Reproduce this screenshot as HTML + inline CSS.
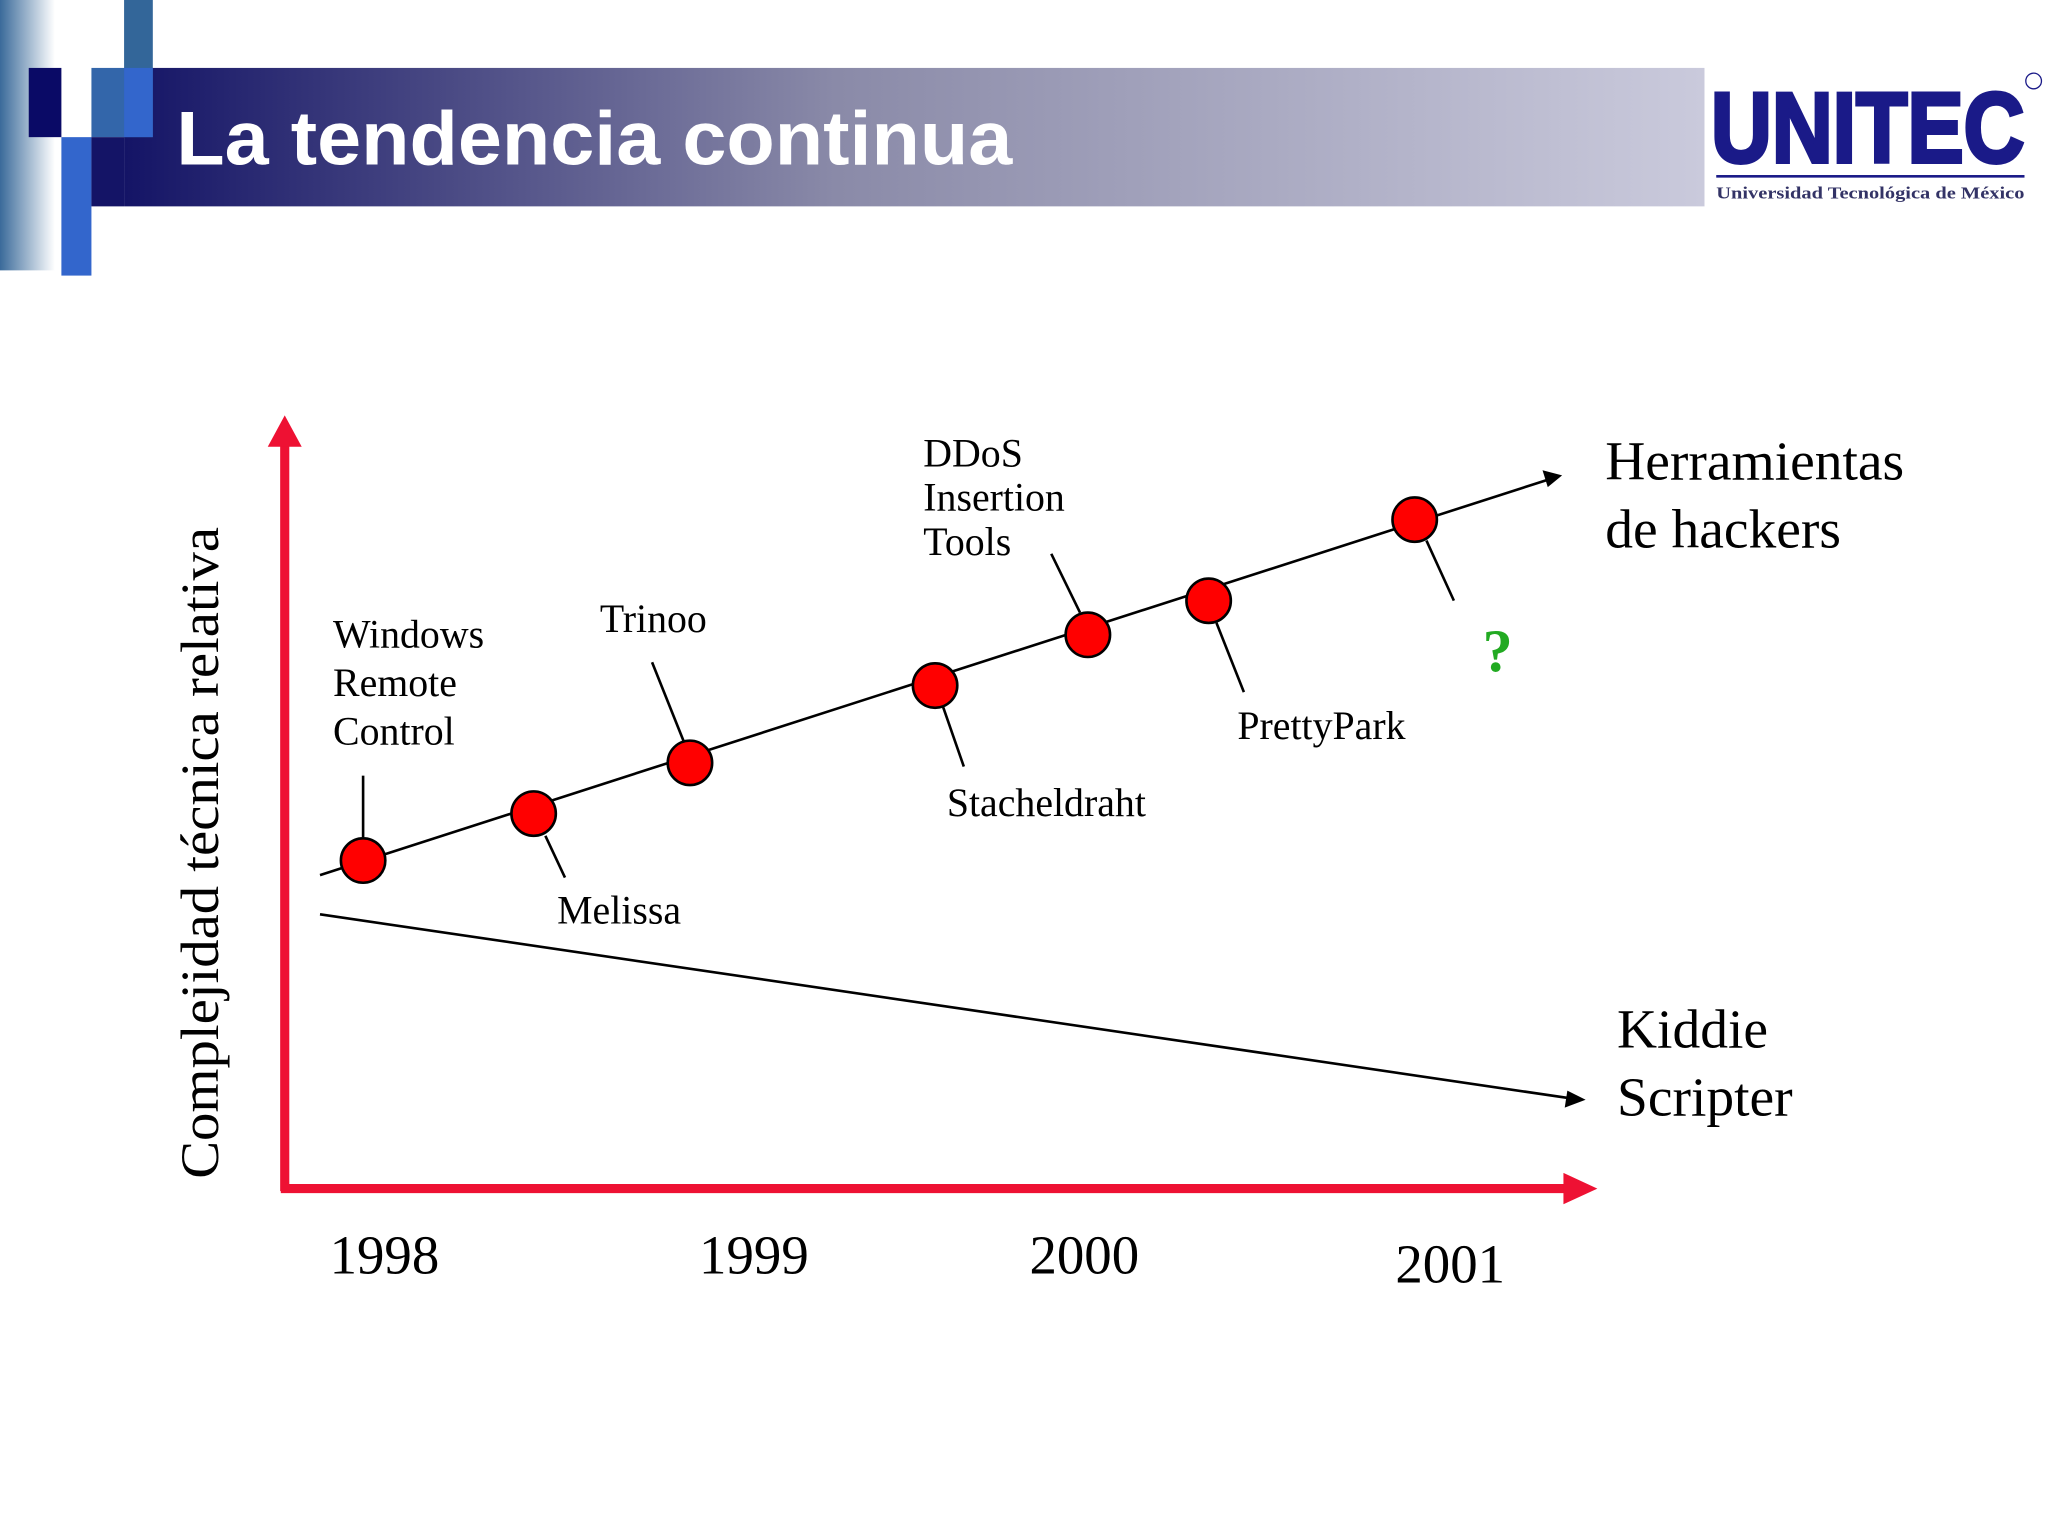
<!DOCTYPE html>
<html><head><meta charset="utf-8"><style>
html,body{margin:0;padding:0;background:#fff;}
svg{display:block;}
</style></head><body>
<svg id="chart" width="2048" height="1536" viewBox="0 0 1568 1176" xmlns="http://www.w3.org/2000/svg">
<defs>
<linearGradient id="band" x1="0" x2="1" y1="0" y2="0">
<stop offset="0" stop-color="#141466"/><stop offset="0.45" stop-color="#8a8aa8"/><stop offset="1" stop-color="#cacadc"/>
</linearGradient>
<linearGradient id="strip" x1="0" x2="1" y1="0" y2="0">
<stop offset="0" stop-color="#3a6a9a"/><stop offset="1" stop-color="#ffffff"/>
</linearGradient>
</defs>
<g>
<rect x="0" y="0" width="42" height="207" fill="url(#strip)"/>
<rect x="95" y="52" width="1210" height="106" fill="url(#band)"/>
<rect x="95" y="0" width="22" height="105" fill="#336699"/>
<rect x="22" y="52" width="25" height="53" fill="#0a0a66"/>
<rect x="70" y="52" width="25" height="53" fill="#3366aa"/>
<rect x="95" y="52" width="22" height="53" fill="#3366cc"/>
<rect x="47" y="105" width="23" height="106" fill="#3366cc"/>
<rect x="70" y="105" width="25" height="53" fill="#141466"/>
<text x="135" y="126" fill="#fff" font-family="Liberation Sans, sans-serif" font-weight="bold" font-size="58" textLength="640" lengthAdjust="spacingAndGlyphs">La tendencia continua</text>
<g>
<text x="1310" y="124" fill="#1a1a88" font-family="Liberation Sans, sans-serif" font-weight="bold" font-size="76" textLength="240" lengthAdjust="spacingAndGlyphs" stroke="#1a1a88" stroke-width="3">UNITEC</text>
<rect x="1314" y="134" width="236" height="2" fill="#1a1a88"/>
<text x="1314" y="152" fill="#333366" font-family="Liberation Serif, serif" font-weight="bold" font-size="13" textLength="236" lengthAdjust="spacingAndGlyphs">Universidad Tecnológica de México</text>
<circle cx="1557" cy="62" r="6" fill="none" stroke="#1a1a88" stroke-width="1"/>
</g>
</g>
<g id="plot"></g>
</svg>
<script>
const eventNames = [["Windows","Remote","Control"],["Melissa"],["Trinoo"],["Stacheldraht"],["DDoS","Insertion","Tools"],["PrettyPark"],["?"]];
const eventTimes = [1998.0, 1998.48, 1998.92, 1999.61, 2000.04, 2000.38, 2000.96];
const eventComplexity = [4.33, 4.95, 5.62, 6.64, 7.31, 7.76, 8.83];
const yearLabels = ["1998","1999","2000","2001"];
const yearTimes = [1998.06, 1999.1, 2000.03, 2001.06];

const NS="http://www.w3.org/2000/svg";
const g=document.getElementById('plot');
function xS(t){return 278+(t-1998)*272;}
function yS(v){return 910-v*58;}
function mk(tag,at,parent){const e=document.createElementNS(NS,tag);for(const k in at)e.setAttribute(k,at[k]);(parent||g).appendChild(e);return e;}
const red="#ee1133";
let ax=mk('line',{x1:218,y1:912,x2:218,y2:338,stroke:red,'stroke-width':7});


let ah=mk('polygon',{points:"205,342 218,318 231,342",fill:red});


let ax2=mk('line',{x1:215,y1:910,x2:1200,y2:910,stroke:red,'stroke-width':7});


let ah2=mk('polygon',{points:"1197,898 1223,910 1197,922",fill:red});


let t1=mk('line',{x1:245,y1:670,x2:1186,y2:367,stroke:"#000",'stroke-width':2});


let a1=mk('polygon',{points:"1196,364 1181,360 1185,373",fill:"#000"});


let t2=mk('line',{x1:245,y1:700,x2:1203,y2:841,stroke:"#000",'stroke-width':2});


let a2=mk('polygon',{points:"1214,842 1200,835 1198,848",fill:"#000"});


const leaders=[[0,-18,0,-65],[9,17,24,49],[-5,-17,-29,-77],[6,16,22,62],[-6,-17,-28,-62],[6,17,27,70],[9,16,30,62]];
const labelPos=[[-23,-163],[18,84],[-69,-100],[9,100],[-126,-129],[22,106],[52,116]];
const lh=[37,34,34,34,34,34,34];
for(let i=0;i<eventTimes.length;i++){
  const cx=xS(eventTimes[i]), cy=yS(eventComplexity[i]);
  const L=leaders[i];
  let ln=mk('line',{x1:cx+L[0],y1:cy+L[1],x2:cx+L[2],y2:cy+L[3],stroke:"#000",'stroke-width':2});
  
  
  let c=mk('circle',{cx:cx,cy:cy,r:17,fill:"#ff0000",stroke:"#000",'stroke-width':2});
  
  
  const isQ=eventNames[i][0]==="?";
  let tx=mk('text',{x:cx+labelPos[i][0],y:cy+labelPos[i][1],'font-family':'Liberation Serif, serif','font-size':isQ?46:30.5,fill:isQ?"#22aa22":"#000",'font-weight':isQ?'bold':'normal'});
  
  
  eventNames[i].forEach((s,j)=>{const ts=mk('tspan',{x:cx+labelPos[i][0],dy:j?lh[i]:0},tx);ts.textContent=s;});
}
for(let i=0;i<yearLabels.length;i++){
  let t=mk('text',{x:xS(yearTimes[i]),y:i===3?982:975,'text-anchor':'middle','font-family':'Liberation Serif, serif','font-size':42});
  t.textContent=yearLabels[i];
  
  
}
function block(lines,x,y,name){
  let t=mk('text',{x:x,y:y,'font-family':'Liberation Serif, serif','font-size':42.5});
  
  
  lines.forEach((s,j)=>{const ts=mk('tspan',{x:x,dy:j?52:0},t);ts.textContent=s;});
}
block(["Herramientas","de hackers"],1229,367,'hacker-tools-label');
block(["Kiddie","Scripter"],1238,802,'kiddie-label');
let yt=mk('text',{x:0,y:0,transform:'translate(167,653) rotate(-90)','text-anchor':'middle','font-family':'Liberation Serif, serif','font-size':41,textLength:499,lengthAdjust:'spacingAndGlyphs'});
yt.textContent="Complejidad técnica relativa";


</script>
</body></html>
